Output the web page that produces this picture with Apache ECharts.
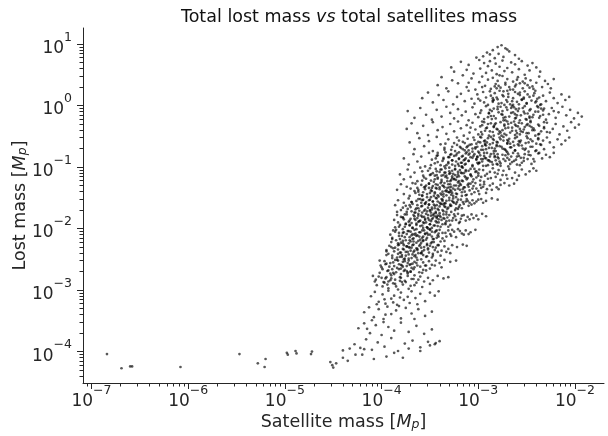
<!DOCTYPE html>
<html><head><meta charset="utf-8">
<script src="https://cdn.jsdelivr.net/npm/echarts@6/dist/echarts.min.js"></script>
<style>html,body{margin:0;padding:0;background:#fff}#c{width:608px;height:436px}</style>
</head><body><div id="c"></div>
<script>
// Tick exponents (labels 10^k)
const xTickExps = [-7, -6, -5, -4, -3, -2];
const yTickExps = [-4, -3, -2, -1, 0, 1];

// Points, as [log10(satellite mass), log10(lost mass)]
const upperCloud = [
[-2.76,.98],[-2.8,.95],[-2.72,.93],[-2.85,.9],[-2.68,.88],[-2.91,.86],[-2.79,.84],[-2.62,.82],[-2.95,.8],[-2.74,.79],[-2.83,.77],[-2.58,.76],[-3.02,.78],[-2.7,.91],[-2.88,.83],
[-3.28,.62],[-3.25,.55],[-3.18,.71],[-3.12,.58],[-3.1,.66],[-3.05,.52],[-2.99,.74],[-2.98,.6],[-2.94,.69],[-2.92,.53],[-2.9,.64],[-2.88,.72],[-2.86,.57],[-2.82,.68],[-2.81,.51],[-2.78,.63],[-2.75,.73],[-2.73,.56],[-2.7,.61],[-2.66,.7],[-2.65,.54],[-2.62,.67],[-2.58,.59],[-2.55,.72],[-2.52,.5],[-2.49,.65],[-2.47,.57],[-2.44,.69],[-2.4,.62],[-2.36,.55],
[-3.42,.33],[-3.38,.46],[-3.33,.28],[-3.27,.41],[-3.21,.36],[-3.16,.49],[-3.12,.3],[-3.07,.44],[-3.03,.26],[-2.99,.38],[-2.96,.47],[-2.93,.32],[-2.9,.42],[-2.87,.27],[-2.85,.45],[-2.82,.35],[-2.8,.4],[-2.77,.29],[-2.75,.48],[-2.72,.34],[-2.7,.43],[-2.67,.26],[-2.64,.39],[-2.62,.31],[-2.59,.46],[-2.57,.36],[-2.54,.28],[-2.51,.44],[-2.49,.33],[-2.46,.41],[-2.43,.27],[-2.4,.37],[-2.37,.47],[-2.34,.3],[-2.31,.4],[-2.28,.35],[-2.25,.28],[-2.22,.43],[-2.78,.49],[-2.68,.3],[-2.96,.3],[-2.52,.36],[-3.1,.37],[-2.6,.42],[-2.83,.31],
[-3.58,.12],[-3.52,.21],[-3.47,.05],[-3.41,.17],[-3.36,.09],[-3.31,.23],[-3.26,.02],[-3.22,.14],[-3.18,.19],[-3.14,.07],[-3.1,.24],[-3.07,.11],[-3.04,.03],[-3.01,.18],[-2.98,.08],[-2.95,.22],[-2.92,.13],[-2.9,.01],[-2.87,.16],[-2.85,.06],[-2.83,.2],[-2.8,.1],[-2.78,.24],[-2.76,.04],[-2.74,.15],[-2.71,.09],[-2.69,.19],[-2.67,.02],[-2.64,.12],[-2.62,.22],[-2.6,.06],[-2.57,.17],[-2.55,.1],[-2.52,.23],[-2.5,.03],[-2.47,.14],[-2.45,.08],[-2.42,.2],[-2.39,.11],[-2.36,.01],[-2.33,.16],[-2.3,.07],[-2.26,.21],[-2.22,.12],[-2.18,.04],[-2.14,.18],[-2.1,.09],[-2.06,.14],[-2.94,.05],[-2.81,.13],[-2.7,.24],[-2.58,.02],[-2.88,.23],[-2.65,.07],[-2.49,.18],[-3.0,.11],[-2.73,.01],[-2.53,.13],[-2.41,.05],[-2.84,.09],
[-3.73,-.09],[-3.66,-.2],[-3.6,-.04],[-3.54,-.15],[-3.48,-.23],[-3.43,-.07],[-3.38,-.18],[-3.33,-.02],[-3.29,-.12],[-3.25,-.21],[-3.21,-.06],[-3.17,-.16],[-3.13,-.1],[-3.1,-.24],[-3.06,-.03],[-3.03,-.14],[-3.0,-.19],[-2.97,-.08],[-2.94,-.22],[-2.92,-.01],[-2.89,-.13],[-2.87,-.17],[-2.84,-.05],[-2.82,-.21],[-2.79,-.11],[-2.77,-.02],[-2.75,-.15],[-2.72,-.24],[-2.7,-.07],[-2.68,-.18],[-2.66,-.12],[-2.63,-.03],[-2.61,-.2],[-2.59,-.09],[-2.56,-.16],[-2.54,-.04],[-2.51,-.22],[-2.49,-.13],[-2.46,-.06],[-2.44,-.19],[-2.41,-.1],[-2.39,-.01],[-2.36,-.17],[-2.33,-.08],[-2.3,-.23],[-2.27,-.14],[-2.24,-.04],[-2.2,-.2],[-2.17,-.11],[-2.13,-.02],[-2.09,-.16],[-2.05,-.07],[-2.01,-.21],[-1.97,-.12],[-1.93,-.18],[-2.8,-.06],[-2.74,-.2],[-2.65,-.01],[-2.57,-.24],[-2.9,-.19],[-2.62,-.14],[-2.53,-.1],[-2.35,-.05],[-2.98,-.12],[-2.71,-.03],[-2.47,-.2],[-2.86,-.09],[-2.58,-.05],[-2.43,-.15],[-2.22,-.09],
[-3.74,-.38],[-3.69,-.29],[-3.63,-.45],[-3.57,-.33],[-3.52,-.48],[-3.47,-.27],[-3.42,-.4],[-3.37,-.35],[-3.33,-.46],[-3.29,-.3],[-3.25,-.42],[-3.21,-.26],[-3.18,-.37],[-3.15,-.49],[-3.12,-.32],[-3.09,-.44],[-3.06,-.28],[-3.03,-.39],[-3.0,-.47],[-2.98,-.34],[-2.96,-.26],[-2.93,-.41],[-2.91,-.36],[-2.89,-.49],[-2.87,-.29],[-2.85,-.43],[-2.83,-.31],[-2.81,-.38],[-2.79,-.46],[-2.77,-.27],[-2.75,-.4],[-2.73,-.33],[-2.71,-.48],[-2.69,-.3],[-2.67,-.44],[-2.65,-.36],[-2.63,-.26],[-2.61,-.41],[-2.59,-.34],[-2.57,-.47],[-2.55,-.29],[-2.53,-.39],[-2.5,-.32],[-2.48,-.45],[-2.46,-.27],[-2.43,-.37],[-2.41,-.49],[-2.38,-.31],[-2.35,-.42],[-2.32,-.35],[-2.29,-.28],[-2.26,-.44],[-2.23,-.38],[-2.2,-.3],[-2.16,-.47],[-2.12,-.34],[-2.08,-.41],[-2.04,-.27],[-2.0,-.36],[-1.96,-.31],[-2.9,-.3],[-2.78,-.42],[-2.66,-.28],[-2.6,-.45],[-2.52,-.35],[-2.44,-.4],[-2.84,-.35],[-2.72,-.37],[-2.97,-.43],[-2.62,-.31],[-2.37,-.46],[-3.08,-.36],[-2.56,-.42],[-2.76,-.49],[-2.47,-.33]
];
const middleCloud = [
[-3.71,-.6],[-3.66,-.71],[-3.61,-.53],[-3.56,-.66],[-3.51,-.58],[-3.47,-.74],[-3.43,-.51],[-3.39,-.63],[-3.35,-.69],[-3.31,-.55],[-3.28,-.72],[-3.25,-.61],[-3.22,-.52],[-3.19,-.67],[-3.16,-.59],[-3.14,-.73],[-3.11,-.54],[-3.09,-.64],[-3.06,-.7],[-3.04,-.56],[-3.02,-.62],[-3.0,-.75],[-2.98,-.51],[-2.96,-.66],[-2.94,-.58],[-2.92,-.71],[-2.9,-.53],[-2.88,-.63],[-2.86,-.69],[-2.84,-.56],[-2.82,-.74],[-2.8,-.6],[-2.78,-.52],[-2.76,-.67],[-2.74,-.57],[-2.72,-.72],[-2.7,-.62],[-2.68,-.54],[-2.66,-.68],[-2.64,-.59],[-2.62,-.73],[-2.6,-.51],[-2.58,-.65],[-2.56,-.57],[-2.54,-.7],[-2.51,-.61],[-2.49,-.53],[-2.46,-.67],[-2.44,-.58],[-2.41,-.74],[-2.38,-.55],[-2.35,-.64],[-2.32,-.71],[-2.29,-.52],[-2.26,-.6],[-2.22,-.68],[-2.18,-.55],[-2.14,-.63],[-2.1,-.57],[-2.06,-.52],[-3.0,-.59],[-2.93,-.64],[-2.87,-.51],[-2.81,-.66],[-2.75,-.7],[-2.69,-.58],[-2.63,-.65],[-2.97,-.72],[-2.85,-.61],[-2.77,-.55],[-2.71,-.74],[-3.12,-.68],[-3.05,-.52],[-2.91,-.6],[-2.83,-.7],[-2.57,-.6],[-2.52,-.72],[-2.4,-.62],[-3.2,-.57],[-2.67,-.62],
[-3.77,-.86],[-3.72,-.96],[-3.67,-.79],[-3.63,-.91],[-3.59,-.83],[-3.55,-.99],[-3.51,-.77],[-3.48,-.88],[-3.45,-.94],[-3.42,-.81],[-3.39,-.97],[-3.36,-.85],[-3.34,-.76],[-3.31,-.92],[-3.29,-.8],[-3.27,-.89],[-3.24,-.98],[-3.22,-.78],[-3.2,-.87],[-3.18,-.93],[-3.16,-.82],[-3.14,-.96],[-3.12,-.76],[-3.1,-.9],[-3.08,-.84],[-3.06,-.99],[-3.04,-.79],[-3.02,-.88],[-3.0,-.95],[-2.98,-.81],[-2.96,-.91],[-2.94,-.77],[-2.92,-.86],[-2.9,-.97],[-2.88,-.83],[-2.86,-.92],[-2.84,-.78],[-2.82,-.89],[-2.8,-.84],[-2.77,-.98],[-2.75,-.8],[-2.72,-.9],[-2.7,-.85],[-2.67,-.95],[-2.64,-.77],[-2.61,-.88],[-2.58,-.82],[-2.55,-.93],[-2.52,-.79],[-2.49,-.87],[-2.46,-.81],[-2.42,-.91],[-2.38,-.78],[-2.34,-.86],[-2.3,-.8],[-2.26,-.84],[-2.22,-.77],[-3.3,-.84],[-3.21,-.95],[-3.13,-.86],[-3.05,-.82],[-2.99,-.93],[-2.93,-.85],[-2.87,-.79],[-2.81,-.95],[-2.74,-.87],[-2.66,-.83],[-3.37,-.9],[-3.25,-.82],[-3.17,-.99],[-3.09,-.78],[-3.01,-.84],[-2.95,-.98],[-2.89,-.89],[-2.83,-.82],[-2.78,-.91],[-2.69,-.79],[-2.6,-.96],[-3.44,-.86],[-3.33,-.97],[-3.15,-.89],[-2.97,-.87],[-2.85,-.96],[-2.63,-.9],[-2.53,-.85],
[-3.81,-1.12],[-3.77,-1.2],[-3.73,-1.04],[-3.7,-1.16],[-3.66,-1.09],[-3.63,-1.23],[-3.6,-1.01],[-3.57,-1.14],[-3.54,-1.19],[-3.52,-1.06],[-3.49,-1.22],[-3.47,-1.1],[-3.44,-1.03],[-3.42,-1.17],[-3.4,-1.08],[-3.38,-1.24],[-3.36,-1.13],[-3.34,-1.02],[-3.32,-1.18],[-3.3,-1.07],[-3.28,-1.21],[-3.26,-1.11],[-3.24,-1.04],[-3.22,-1.16],[-3.2,-1.23],[-3.18,-1.09],[-3.16,-1.01],[-3.14,-1.15],[-3.12,-1.2],[-3.1,-1.06],[-3.08,-1.12],[-3.06,-1.24],[-3.04,-1.03],[-3.02,-1.17],[-3.0,-1.1],[-2.98,-1.22],[-2.95,-1.05],[-2.93,-1.14],[-2.9,-1.19],[-2.88,-1.08],[-2.85,-1.02],[-2.82,-1.16],[-2.8,-1.11],[-2.77,-1.21],[-2.74,-1.06],[-2.71,-1.13],[-2.68,-1.03],[-2.65,-1.18],[-2.62,-1.09],[-2.58,-1.14],[-2.55,-1.04],[-2.51,-1.12],[-2.47,-1.07],[-2.43,-1.02],[-2.4,-1.06],[-3.45,-1.2],[-3.35,-1.09],[-3.27,-1.15],[-3.19,-1.05],[-3.11,-1.18],[-3.03,-1.08],[-2.97,-1.16],[-2.91,-1.11],[-3.5,-1.13],[-3.39,-1.04],[-3.29,-1.23],[-3.21,-1.12],[-3.13,-1.07],[-3.05,-1.2],[-2.99,-1.04],[-2.87,-1.18],[-2.79,-1.05],[-2.7,-1.19],[-3.58,-1.07],[-3.43,-1.13],[-3.25,-1.19],[-3.15,-1.1],[-3.07,-1.15],[-2.94,-1.24],[-2.83,-1.09],[-2.6,-1.21],[-3.33,-1.14],[-3.17,-1.22],[-3.0,-1.14],[-2.75,-1.13],
[-3.84,-1.37],[-3.8,-1.28],[-3.77,-1.44],[-3.74,-1.32],[-3.71,-1.47],[-3.68,-1.26],[-3.66,-1.39],[-3.63,-1.34],[-3.61,-1.45],[-3.59,-1.29],[-3.57,-1.41],[-3.55,-1.36],[-3.53,-1.49],[-3.51,-1.27],[-3.49,-1.38],[-3.47,-1.31],[-3.45,-1.43],[-3.43,-1.35],[-3.41,-1.48],[-3.39,-1.26],[-3.37,-1.4],[-3.35,-1.33],[-3.33,-1.46],[-3.31,-1.28],[-3.29,-1.37],[-3.27,-1.42],[-3.25,-1.3],[-3.23,-1.49],[-3.21,-1.35],[-3.19,-1.27],[-3.17,-1.41],[-3.15,-1.33],[-3.13,-1.46],[-3.11,-1.29],[-3.09,-1.38],[-3.07,-1.44],[-3.05,-1.31],[-3.03,-1.26],[-3.0,-1.39],[-2.97,-1.34],[-2.94,-1.28],[-2.91,-1.36],[-2.88,-1.3],[-2.85,-1.27],[-2.81,-1.33],[-2.77,-1.29],[-2.73,-1.26],[-2.68,-1.3],[-2.63,-1.27],[-3.62,-1.4],[-3.54,-1.3],[-3.46,-1.47],[-3.4,-1.33],[-3.34,-1.39],[-3.28,-1.32],[-3.22,-1.44],[-3.16,-1.36],[-3.1,-1.32],[-3.04,-1.41],[-2.98,-1.29],[-3.7,-1.35],[-3.58,-1.46],[-3.5,-1.42],[-3.44,-1.28],[-3.38,-1.45],[-3.32,-1.34],[-3.26,-1.47],[-3.2,-1.31],[-3.14,-1.4],[-3.08,-1.27],[-3.02,-1.35],[-2.92,-1.42],[-2.86,-1.37],[-3.65,-1.27],[-3.48,-1.34],[-3.36,-1.44],[-3.24,-1.37],[-3.12,-1.45],[-3.06,-1.35],[-2.95,-1.32],[-2.79,-1.36],[-3.56,-1.33],[-3.3,-1.41],[-3.18,-1.29],[-2.99,-1.44],
[-3.86,-1.62],[-3.83,-1.54],[-3.8,-1.7],[-3.77,-1.58],[-3.74,-1.73],[-3.72,-1.51],[-3.7,-1.65],[-3.68,-1.6],[-3.66,-1.74],[-3.64,-1.55],[-3.62,-1.67],[-3.6,-1.52],[-3.58,-1.63],[-3.56,-1.71],[-3.54,-1.57],[-3.52,-1.66],[-3.5,-1.53],[-3.48,-1.69],[-3.46,-1.61],[-3.44,-1.75],[-3.42,-1.56],[-3.4,-1.64],[-3.38,-1.52],[-3.36,-1.72],[-3.34,-1.59],[-3.32,-1.68],[-3.3,-1.54],[-3.28,-1.63],[-3.26,-1.51],[-3.24,-1.7],[-3.22,-1.57],[-3.2,-1.65],[-3.18,-1.53],[-3.15,-1.6],[-3.12,-1.52],[-3.09,-1.58],[-3.06,-1.54],[-3.02,-1.56],[-2.97,-1.52],[-2.92,-1.55],[-2.86,-1.51],[-2.8,-1.53],[-3.78,-1.66],[-3.69,-1.57],[-3.61,-1.71],[-3.55,-1.6],[-3.49,-1.74],[-3.43,-1.62],[-3.37,-1.55],[-3.31,-1.66],[-3.25,-1.58],[-3.19,-1.62],[-3.13,-1.56],[-3.07,-1.61],[-3.0,-1.53],[-3.84,-1.73],[-3.75,-1.63],[-3.65,-1.69],[-3.57,-1.53],[-3.51,-1.61],[-3.45,-1.67],[-3.39,-1.6],[-3.33,-1.73],[-3.27,-1.55],[-3.21,-1.68],[-3.16,-1.57],[-3.1,-1.63],[-3.04,-1.59],[-2.95,-1.58],[-3.73,-1.68],[-3.59,-1.58],[-3.47,-1.56],[-3.35,-1.64],[-3.23,-1.6],[-3.11,-1.55],[-3.63,-1.62],[-3.53,-1.72],[-3.41,-1.7],[-3.29,-1.61],[-3.17,-1.67],
[-3.87,-1.86],[-3.84,-1.78],[-3.81,-1.94],[-3.78,-1.82],[-3.76,-1.97],[-3.74,-1.77],[-3.72,-1.89],[-3.7,-1.84],[-3.68,-1.99],[-3.66,-1.8],[-3.64,-1.92],[-3.62,-1.76],[-3.6,-1.87],[-3.58,-1.95],[-3.56,-1.81],[-3.54,-1.9],[-3.52,-1.78],[-3.5,-1.93],[-3.48,-1.85],[-3.46,-1.76],[-3.44,-1.88],[-3.42,-1.96],[-3.4,-1.79],[-3.38,-1.86],[-3.36,-1.77],[-3.34,-1.91],[-3.32,-1.82],[-3.3,-1.78],[-3.27,-1.87],[-3.24,-1.8],[-3.21,-1.76],[-3.18,-1.84],[-3.15,-1.78],[-3.11,-1.81],[-3.07,-1.77],[-3.02,-1.79],[-2.96,-1.76],[-2.92,-1.8],[-3.83,-1.9],[-3.77,-1.85],[-3.71,-1.95],[-3.65,-1.86],[-3.59,-1.79],[-3.53,-1.98],[-3.47,-1.83],[-3.41,-1.9],[-3.35,-1.84],[-3.29,-1.94],[-3.23,-1.86],[-3.17,-1.79],[-3.13,-1.87],[-3.05,-1.83],[-3.8,-1.81],[-3.69,-1.91],[-3.63,-1.83],[-3.57,-1.99],[-3.51,-1.86],[-3.45,-1.95],[-3.39,-1.81],[-3.33,-1.88],[-3.26,-1.83],[-3.2,-1.91],[-3.09,-1.85],[-3.75,-1.93],[-3.61,-1.88],[-3.49,-1.79],[-3.37,-1.93],[-3.25,-1.77],[-3.86,-1.98],[-3.67,-1.78],[-3.55,-1.84],[-3.43,-1.83],[-3.31,-1.97],[-3.19,-1.89],[-3.0,-1.85]
];
const lowerCloud = [
[-3.91,-2.1],[-3.88,-2.03],[-3.85,-2.19],[-3.82,-2.07],[-3.8,-2.23],[-3.78,-2.01],[-3.76,-2.14],[-3.74,-2.09],[-3.72,-2.24],[-3.7,-2.05],[-3.68,-2.17],[-3.66,-2.02],[-3.64,-2.12],[-3.62,-2.2],[-3.6,-2.06],[-3.58,-2.15],[-3.56,-2.03],[-3.54,-2.18],[-3.52,-2.1],[-3.5,-2.01],[-3.48,-2.13],[-3.46,-2.22],[-3.44,-2.04],[-3.42,-2.11],[-3.4,-2.02],[-3.37,-2.16],[-3.34,-2.07],[-3.31,-2.03],[-3.28,-2.12],[-3.25,-2.05],[-3.21,-2.01],[-3.17,-2.08],[-3.13,-2.03],[-3.08,-2.06],[-3.03,-2.02],[-3.89,-2.15],[-3.83,-2.24],[-3.77,-2.06],[-3.71,-2.19],[-3.65,-2.08],[-3.59,-2.23],[-3.53,-2.07],[-3.47,-2.17],[-3.41,-2.08],[-3.35,-2.2],[-3.29,-2.09],[-3.23,-2.14],[-3.19,-2.04],[-3.86,-2.05],[-3.79,-2.12],[-3.73,-2.04],[-3.67,-2.21],[-3.61,-2.13],[-3.55,-2.09],[-3.49,-2.24],[-3.43,-2.15],[-3.33,-2.13],[-3.27,-2.02],[-3.15,-2.1],[-3.81,-2.17],[-3.69,-2.11],[-3.57,-2.19],[-3.45,-2.06],[-3.39,-2.21],[-3.1,-2.09],
[-3.95,-2.35],[-3.92,-2.28],[-3.89,-2.44],[-3.86,-2.31],[-3.84,-2.47],[-3.82,-2.26],[-3.8,-2.39],[-3.78,-2.33],[-3.76,-2.49],[-3.74,-2.29],[-3.72,-2.42],[-3.7,-2.36],[-3.68,-2.27],[-3.66,-2.45],[-3.64,-2.32],[-3.62,-2.4],[-3.6,-2.26],[-3.58,-2.37],[-3.56,-2.3],[-3.54,-2.46],[-3.52,-2.34],[-3.5,-2.28],[-3.47,-2.41],[-3.44,-2.31],[-3.41,-2.27],[-3.38,-2.36],[-3.35,-2.29],[-3.31,-2.33],[-3.27,-2.27],[-3.22,-2.3],[-3.16,-2.26],[-3.12,-2.28],[-3.93,-2.41],[-3.87,-2.37],[-3.81,-2.46],[-3.75,-2.38],[-3.69,-2.48],[-3.63,-2.35],[-3.57,-2.43],[-3.51,-2.39],[-3.45,-2.35],[-3.39,-2.44],[-3.33,-2.38],[-3.9,-2.3],[-3.83,-2.34],[-3.77,-2.27],[-3.71,-2.31],[-3.65,-2.43],[-3.59,-2.31],[-3.53,-2.27],[-3.48,-2.47],[-3.42,-2.38],[-3.29,-2.4],[-3.79,-2.43],[-3.67,-2.38],
[-4.01,-2.6],[-3.97,-2.53],[-3.94,-2.69],[-3.91,-2.56],[-3.88,-2.72],[-3.86,-2.51],[-3.84,-2.64],[-3.82,-2.58],[-3.8,-2.74],[-3.78,-2.54],[-3.76,-2.67],[-3.74,-2.61],[-3.72,-2.52],[-3.7,-2.7],[-3.68,-2.57],[-3.66,-2.63],[-3.63,-2.51],[-3.6,-2.62],[-3.57,-2.55],[-3.54,-2.68],[-3.51,-2.53],[-3.48,-2.59],[-3.44,-2.52],[-3.4,-2.56],[-3.35,-2.51],[-3.29,-2.54],[-3.23,-2.52],[-3.99,-2.66],[-3.92,-2.62],[-3.85,-2.71],[-3.79,-2.6],[-3.73,-2.73],[-3.67,-2.66],[-3.61,-2.71],[-3.55,-2.6],[-3.5,-2.65],[-3.45,-2.6],[-3.38,-2.63],[-3.96,-2.58],[-3.89,-2.66],[-3.83,-2.52],[-3.77,-2.69],[-3.71,-2.59],[-3.64,-2.56],[-3.58,-2.72],
[-4.07,-2.86],[-4.03,-2.78],[-3.99,-2.94],[-3.96,-2.81],[-3.93,-2.97],[-3.9,-2.76],[-3.88,-2.89],[-3.86,-2.83],[-3.83,-2.99],[-3.81,-2.79],[-3.78,-2.91],[-3.76,-2.85],[-3.73,-2.77],[-3.7,-2.93],[-3.67,-2.82],[-3.64,-2.88],[-3.6,-2.78],[-3.56,-2.86],[-3.52,-2.8],[-3.47,-2.84],[-3.42,-2.77],[-3.36,-2.81],[-3.31,-2.79],[-4.05,-2.92],[-3.98,-2.87],[-3.91,-2.84],[-3.85,-2.94],[-3.79,-2.87],[-3.72,-2.98],[-3.66,-2.92],[-3.58,-2.95],[-3.5,-2.9],[-4.0,-2.8],[-3.94,-2.91],[-3.62,-2.83],
[-4.11,-3.1],[-4.07,-3.03],[-4.03,-3.19],[-3.99,-3.07],[-3.96,-3.22],[-3.93,-3.01],[-3.9,-3.14],[-3.87,-3.09],[-3.84,-3.24],[-3.8,-3.04],[-3.77,-3.16],[-3.73,-3.11],[-3.69,-3.02],[-3.65,-3.13],[-3.6,-3.06],[-3.55,-3.18],[-3.5,-3.04],[-3.45,-3.09],[-3.41,-3.02],[-4.05,-3.23],[-3.97,-3.15],[-3.88,-3.2],[-3.81,-3.12],[-3.71,-3.21],[-3.63,-3.23],
[-4.18,-3.36],[-4.13,-3.28],[-4.08,-3.44],[-4.03,-3.31],[-3.98,-3.47],[-3.94,-3.27],[-3.9,-3.39],[-3.85,-3.33],[-3.8,-3.46],[-3.75,-3.29],[-3.69,-3.38],[-3.62,-3.31],[-3.55,-3.42],[-3.48,-3.35],[-4.1,-3.49],[-3.96,-3.4],[-3.82,-3.26],[-3.66,-3.47],
[-4.24,-3.62],[-4.18,-3.54],[-4.12,-3.7],[-4.06,-3.57],[-4.0,-3.73],[-3.93,-3.6],[-3.87,-3.66],[-3.8,-3.53],[-3.72,-3.68],[-3.64,-3.58],[-3.56,-3.71],[-3.48,-3.64],[-4.15,-3.63],[-3.98,-3.52],
[-4.28,-3.88],[-4.22,-3.94],[-4.16,-3.8],[-4.1,-3.97],[-4.04,-3.85],[-3.97,-3.92],[-3.9,-3.78],[-3.83,-3.99],[-3.76,-3.87],[-3.68,-3.82],[-3.6,-3.93],[-3.52,-3.84],[-3.45,-3.88],[-3.4,-3.83],[-3.87,-4.02],[-4.2,-4.05],[-3.95,-4.08],[-4.08,-4.12],
[-4.18,-3.96],[-3.78,-4.1],[-3.72,-3.95],[-3.6,-3.99],[-3.5,-3.9],[-3.44,-3.86],[-4.27,-4.05],[-4.4,-3.98]
];
// Extra points in the dark diagonal ridge
const ridgeCore = [
[-4.06,-2.83],[-3.97,-2.88],[-3.9,-2.81],[-3.86,-2.9],[-3.81,-2.85],[-3.75,-2.87],[-3.69,-2.82],[-3.93,-2.86],
[-4.09,-2.77],[-4.02,-2.72],[-3.95,-2.79],[-3.87,-2.74],[-3.8,-2.8],[-3.73,-2.71],[-3.66,-2.76],[-3.91,-2.73],[-3.7,-2.7],
[-4.0,-2.63],[-3.93,-2.68],[-3.87,-2.61],[-3.82,-2.66],[-3.78,-2.62],[-3.74,-2.69],[-3.69,-2.64],[-3.63,-2.6],[-3.57,-2.67],[-3.8,-2.65],
[-4.02,-2.52],[-3.95,-2.57],[-3.88,-2.55],[-3.84,-2.51],[-3.8,-2.59],[-3.76,-2.53],[-3.73,-2.56],[-3.7,-2.58],[-3.66,-2.54],[-3.59,-2.5],[-3.54,-2.6],
[-3.95,-2.43],[-3.89,-2.48],[-3.83,-2.41],[-3.79,-2.46],[-3.75,-2.44],[-3.72,-2.49],[-3.68,-2.42],[-3.64,-2.47],[-3.59,-2.4],[-3.53,-2.45],[-3.47,-2.44],[-3.77,-2.5],
[-3.95,-2.37],[-3.88,-2.32],[-3.81,-2.39],[-3.77,-2.34],[-3.73,-2.38],[-3.69,-2.31],[-3.66,-2.36],[-3.63,-2.33],[-3.59,-2.4],[-3.56,-2.35],[-3.52,-2.32],[-3.47,-2.3],
[-3.9,-2.22],[-3.83,-2.27],[-3.78,-2.24],[-3.74,-2.29],[-3.7,-2.21],[-3.67,-2.26],[-3.64,-2.23],[-3.61,-2.28],[-3.57,-2.2],[-3.53,-2.25],[-3.48,-2.22],[-3.42,-2.27],[-3.72,-2.3],
[-3.89,-2.17],[-3.82,-2.12],[-3.75,-2.19],[-3.71,-2.14],[-3.67,-2.16],[-3.63,-2.11],[-3.6,-2.18],[-3.57,-2.13],[-3.53,-2.15],[-3.5,-2.1],[-3.46,-2.17],[-3.41,-2.13],[-3.78,-2.2],
[-3.85,-2.02],[-3.78,-2.07],[-3.72,-2.04],[-3.68,-2.09],[-3.64,-2.01],[-3.61,-2.06],[-3.58,-2.03],[-3.55,-2.08],[-3.52,-2.0],[-3.48,-2.05],[-3.43,-2.03],[-3.37,-2.07],[-3.66,-2.1],[-3.5,-2.02],
[-3.82,-1.97],[-3.75,-1.92],[-3.68,-1.99],[-3.64,-1.94],[-3.6,-1.96],[-3.56,-1.91],[-3.53,-1.98],[-3.5,-1.93],[-3.46,-1.95],[-3.43,-1.9],[-3.39,-1.97],[-3.34,-1.93],[-3.71,-1.94],[-3.48,-1.99],
[-3.78,-1.82],[-3.71,-1.87],[-3.66,-1.84],[-3.62,-1.89],[-3.58,-1.81],[-3.55,-1.86],[-3.52,-1.83],[-3.49,-1.88],[-3.45,-1.8],[-3.41,-1.85],[-3.36,-1.83],[-3.3,-1.87],[-3.57,-1.9],[-3.43,-1.81],
[-3.76,-1.77],[-3.69,-1.72],[-3.62,-1.79],[-3.58,-1.74],[-3.54,-1.76],[-3.5,-1.71],[-3.47,-1.78],[-3.44,-1.73],[-3.4,-1.75],[-3.37,-1.7],[-3.33,-1.77],[-3.28,-1.73],[-3.65,-1.74],[-3.42,-1.79],
[-3.71,-1.62],[-3.64,-1.67],[-3.59,-1.64],[-3.55,-1.69],[-3.51,-1.61],[-3.48,-1.66],[-3.45,-1.63],[-3.42,-1.68],[-3.38,-1.6],[-3.34,-1.65],[-3.29,-1.63],[-3.23,-1.67],[-3.5,-1.7],[-3.36,-1.61],
[-3.69,-1.57],[-3.62,-1.52],[-3.55,-1.59],[-3.51,-1.54],[-3.47,-1.56],[-3.43,-1.51],[-3.4,-1.58],[-3.37,-1.53],[-3.33,-1.55],[-3.3,-1.5],[-3.26,-1.57],[-3.21,-1.53],[-3.58,-1.54],[-3.35,-1.59],
[-3.65,-1.42],[-3.58,-1.47],[-3.53,-1.44],[-3.49,-1.49],[-3.45,-1.41],[-3.42,-1.46],[-3.39,-1.43],[-3.36,-1.48],[-3.32,-1.4],[-3.28,-1.45],[-3.23,-1.43],[-3.17,-1.47],[-3.44,-1.5],[-3.3,-1.41],
[-3.62,-1.37],[-3.55,-1.32],[-3.48,-1.39],[-3.44,-1.34],[-3.4,-1.36],[-3.36,-1.31],[-3.33,-1.38],[-3.3,-1.33],[-3.26,-1.35],[-3.23,-1.3],[-3.19,-1.37],[-3.14,-1.33],[-3.51,-1.34],[-3.28,-1.39],
[-3.58,-1.22],[-3.51,-1.27],[-3.46,-1.24],[-3.42,-1.29],[-3.38,-1.21],[-3.35,-1.26],[-3.32,-1.23],[-3.29,-1.28],[-3.25,-1.2],[-3.21,-1.25],[-3.16,-1.23],[-3.1,-1.27],[-3.37,-1.3],[-3.23,-1.21],
[-3.56,-1.17],[-3.49,-1.12],[-3.42,-1.19],[-3.38,-1.14],[-3.34,-1.16],[-3.3,-1.11],[-3.27,-1.18],[-3.24,-1.13],[-3.2,-1.15],[-3.17,-1.1],[-3.13,-1.17],[-3.08,-1.13],[-3.45,-1.14],
[-3.5,-1.02],[-3.43,-1.07],[-3.38,-1.04],[-3.34,-1.09],[-3.3,-1.01],[-3.27,-1.06],[-3.24,-1.03],[-3.21,-1.08],[-3.17,-1.0],[-3.13,-1.05],[-3.08,-1.03],[-3.02,-1.07],[-3.29,-1.1],
[-3.49,-.97],[-3.42,-.92],[-3.35,-.99],[-3.31,-.94],[-3.27,-.96],[-3.23,-.91],[-3.2,-.98],[-3.17,-.93],[-3.13,-.95],[-3.1,-.9],[-3.06,-.97],[-3.01,-.93],
[-3.43,-.82],[-3.36,-.87],[-3.31,-.84],[-3.27,-.89],[-3.23,-.81],[-3.2,-.86],[-3.17,-.83],[-3.14,-.88],[-3.1,-.8],[-3.06,-.85],[-3.01,-.83],[-2.95,-.87],
[-3.42,-.77],[-3.35,-.72],[-3.28,-.79],[-3.24,-.74],[-3.2,-.76],[-3.16,-.71],[-3.13,-.78],[-3.1,-.73],[-3.06,-.75],[-3.03,-.7],[-2.99,-.77],
[-3.34,-.62],[-3.27,-.67],[-3.22,-.64],[-3.18,-.69],[-3.14,-.61],[-3.11,-.66],[-3.07,-.63],[-3.03,-.68],[-2.98,-.6],[-2.92,-.65]
];
// Extra points in the denser upper-right lobe
const lobeCore = [
[-2.99,-.93],[-2.92,-.98],[-2.88,-.91],[-2.8,-.96],[-2.77,-.94],[-2.69,-.99],[-2.65,-.92],[-2.57,-.97],[-2.53,-.9],[-2.45,-.95],
[-3.02,-.87],[-2.94,-.82],[-2.9,-.89],[-2.83,-.84],[-2.79,-.86],[-2.72,-.81],[-2.68,-.88],[-2.6,-.83],[-2.56,-.85],[-2.48,-.8],[-2.43,-.87],
[-2.95,-.72],[-2.91,-.77],[-2.84,-.74],[-2.8,-.79],[-2.73,-.71],[-2.7,-.76],[-2.62,-.73],[-2.59,-.78],[-2.51,-.7],[-2.48,-.75],[-2.4,-.73],[-2.37,-.77],
[-3.01,-.67],[-2.93,-.62],[-2.89,-.69],[-2.81,-.64],[-2.78,-.66],[-2.7,-.61],[-2.67,-.68],[-2.59,-.63],[-2.55,-.65],[-2.48,-.6],[-2.44,-.67],[-2.36,-.63],
[-2.97,-.52],[-2.93,-.57],[-2.85,-.54],[-2.81,-.59],[-2.74,-.51],[-2.7,-.56],[-2.62,-.53],[-2.58,-.58],[-2.5,-.5],[-2.46,-.55],[-2.38,-.53],[-2.33,-.57],
[-2.96,-.47],[-2.88,-.42],[-2.84,-.49],[-2.77,-.44],[-2.73,-.46],[-2.65,-.41],[-2.62,-.48],[-2.54,-.43],[-2.5,-.45],[-2.42,-.4],[-2.38,-.47],[-2.29,-.43],
[-2.96,-.32],[-2.92,-.37],[-2.84,-.34],[-2.8,-.39],[-2.73,-.31],[-2.69,-.36],[-2.61,-.33],[-2.57,-.38],[-2.49,-.3],[-2.45,-.35],[-2.37,-.33],[-2.32,-.37],
[-2.94,-.27],[-2.86,-.22],[-2.82,-.29],[-2.74,-.24],[-2.7,-.26],[-2.62,-.21],[-2.58,-.28],[-2.5,-.23],[-2.46,-.25],[-2.37,-.2],[-2.32,-.27],
[-2.89,-.12],[-2.84,-.17],[-2.76,-.14],[-2.72,-.19],[-2.64,-.11],[-2.6,-.16],[-2.52,-.13],[-2.47,-.18],[-2.38,-.1],[-2.33,-.15],
[-2.88,-.07],[-2.8,-.02],[-2.75,-.09],[-2.66,-.04],[-2.61,-.06],[-2.52,-.01],[-2.47,-.08],[-2.38,-.03],[-2.32,-.05],
[-2.85,.08],[-2.79,.03],[-2.7,.06],[-2.64,.01],[-2.55,.09],[-2.5,.04],[-2.4,.07],[-2.35,.02],
[-2.85,.12],[-2.75,.17],[-2.69,.14],[-2.59,.19],[-2.53,.11],[-2.43,.16],[-2.37,.13],
[-2.81,.28],[-2.74,.23],[-2.64,.26],[-2.57,.21],[-2.47,.29],[-2.41,.24],
[-2.79,.32],[-2.72,.37],[-2.61,.34],[-2.54,.39],[-2.44,.31]
];
const leftTail = [
[-6.84,-4.04],[-6.69,-4.27],[-6.6,-4.24],[-6.58,-4.24],[-6.08,-4.25],[-5.47,-4.04],[-5.28,-4.19],[-5.2,-4.12],[-5.21,-4.25],[-4.98,-4.02],[-4.97,-4.05],[-4.89,-3.99],[-4.88,-4.03],[-4.73,-4.04],[-4.72,-4.0],[-4.53,-4.17],[-4.51,-4.22],[-4.47,-4.19],[-4.5,-4.26],[-4.4,-4.1],[-4.35,-4.15],[-4.33,-3.95]
];

const FONT = '"DejaVu Sans", sans-serif';
const INK = '#262626';
const xMin = Math.pow(10, -7.088), xMax = Math.pow(10, -1.70);
const yMin = Math.pow(10, -4.51), yMax = Math.pow(10, 1.26);

const toData = arr => arr.map(p => [Math.pow(10, p[0]), Math.pow(10, p[1])]);
const allPoints = [].concat(toData(upperCloud), toData(middleCloud), toData(lowerCloud), toData(ridgeCore), toData(lobeCore), toData(leftTail));

const majors = exps => exps.map(e => Math.pow(10, e));
function minors(exps, lo, hi) {
  const out = [];
  for (let k = exps[0] - 1; k <= exps[exps.length - 1]; k++)
    for (let m = 2; m <= 9; m++) { const v = m * Math.pow(10, k); if (v > lo && v < hi) out.push(v); }
  return out;
}
function powLabel(v) {
  const e = Math.round(Math.log10(v));
  return '{b|10}{s|' + (e < 0 ? '\u2212' + (-e) : String(e)) + '}';
}
const tickRich = {
  b: { fontFamily: FONT, fontSize: 17, color: INK, lineHeight: 26, verticalAlign: 'bottom' },
  s: { fontFamily: FONT, fontSize: 12.5, color: INK, lineHeight: 12, verticalAlign: 'top' }
};
const nameRich = {
  n: { fontFamily: FONT, fontSize: 17.5, color: INK, lineHeight: 22, verticalAlign: 'bottom' },
  i: { fontFamily: FONT, fontSize: 17.5, color: INK, fontStyle: 'italic', lineHeight: 22, verticalAlign: 'bottom' },
  p: { fontFamily: FONT, fontSize: 12.5, color: INK, fontStyle: 'italic', lineHeight: 8, verticalAlign: 'bottom' }
};

function majorAxis(exps, lo, hi, extra) {
  return Object.assign({
    type: 'log', logBase: 10, min: lo, max: hi,
    axisLine: { show: true, lineStyle: { color: INK, width: 1 } },
    axisTick: { show: true, inside: false, length: 6, lineStyle: { color: INK, width: 1 }, customValues: majors(exps) },
    splitLine: { show: false }, minorTick: { show: false }, minorSplitLine: { show: false }
  }, extra);
}
function minorAxis(exps, lo, hi, extra) {
  return Object.assign({
    type: 'log', logBase: 10, min: lo, max: hi,
    axisLine: { show: false },
    axisTick: { show: true, inside: false, length: 3.5, lineStyle: { color: INK, width: 1 }, customValues: minors(exps, lo, hi) },
    axisLabel: { show: false },
    splitLine: { show: false }
  }, extra);
}

const chart = echarts.init(document.getElementById('c'), null, { renderer: 'canvas' });
chart.setOption({
  animation: false,
  backgroundColor: '#ffffff',
  title: {
    text: '{a|Total lost mass }{i|vs}{a| total satellites mass}',
    left: 344, top: 3, textAlign: 'center',
    textStyle: {
      fontWeight: 'normal',
      rich: {
        a: { fontFamily: FONT, fontSize: 17.5, color: '#111', fontWeight: 'normal' },
        i: { fontFamily: FONT, fontSize: 17.5, color: '#111', fontStyle: 'italic', fontWeight: 'normal' }
      }
    }
  },
  grid: { left: 83, right: 4, top: 28, bottom: 53, containLabel: false, outerBoundsMode: 'none' },
  xAxis: [
    majorAxis(xTickExps, xMin, xMax, {
      position: 'bottom',
      axisLabel: { show: true, margin: 1, customValues: majors(xTickExps), formatter: powLabel, rich: tickRich },
      name: '{n|Satellite mass [}{i|M}{p|p}{n|]}',
      nameLocation: 'middle', nameGap: 26, nameMoveOverlap: false,
      nameTextStyle: { rich: nameRich }
    }),
    minorAxis(xTickExps, xMin, xMax, { position: 'bottom' })
  ],
  yAxis: [
    majorAxis(yTickExps, yMin, yMax, {
      position: 'left',
      axisLabel: { show: true, margin: 11, customValues: majors(yTickExps), formatter: powLabel, rich: tickRich },
      name: '{n|Lost mass [}{i|M}{p|p}{n|]}',
      nameLocation: 'middle', nameGap: 54, nameMoveOverlap: false,
      nameTextStyle: { rich: nameRich }
    }),
    minorAxis(yTickExps, yMin, yMax, { position: 'left' })
  ],
  series: [{
    type: 'scatter',
    xAxisIndex: 0, yAxisIndex: 0,
    symbol: 'circle', symbolSize: 2.7,
    itemStyle: { color: 'rgba(0,0,0,0.82)' },
    silent: true,
    data: allPoints
  }]
});
</script>
</body></html>
